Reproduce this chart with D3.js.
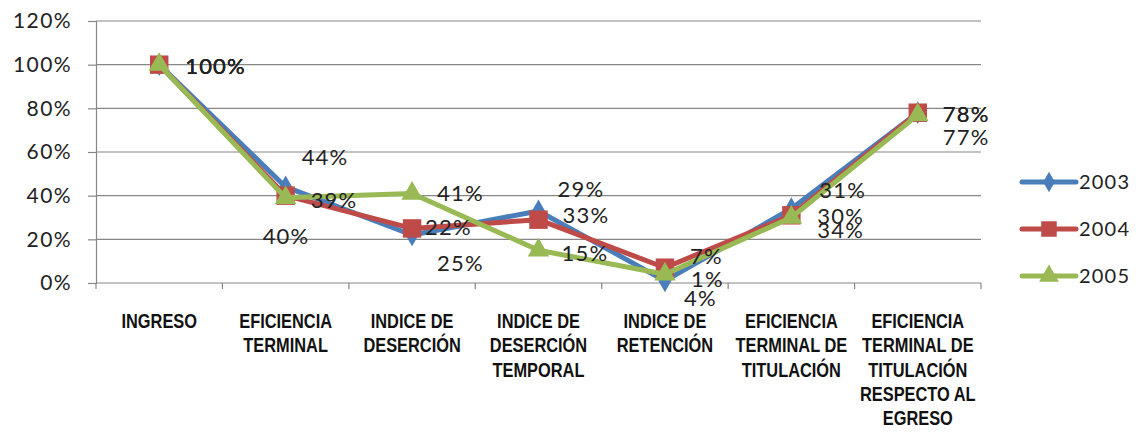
<!DOCTYPE html>
<html><head><meta charset="utf-8">
<script src="https://cdn.jsdelivr.net/npm/d3@7"></script>
<style>
body{margin:0;background:#fff;}
svg{display:block;}
</style></head>
<body><svg id="c" width="1136" height="432"></svg>
<script>
const categories = [
  ["INGRESO"],
  ["EFICIENCIA","TERMINAL"],
  ["INDICE DE","DESERCIÓN"],
  ["INDICE DE","DESERCIÓN","TEMPORAL"],
  ["INDICE DE","RETENCIÓN"],
  ["EFICIENCIA","TERMINAL DE","TITULACIÓN"],
  ["EFICIENCIA","TERMINAL DE","TITULACIÓN","RESPECTO AL","EGRESO"]
];
const seriesNames = ["2003","2004","2005"];
const values2003 = [1.00, 0.44, 0.22, 0.33, 0.01, 0.34, 0.78];
const values2004 = [1.00, 0.40, 0.25, 0.29, 0.07, 0.31, 0.78];
const values2005 = [1.00, 0.39, 0.41, 0.15, 0.04, 0.30, 0.77];
const yTicks = [0, 0.2, 0.4, 0.6, 0.8, 1.0, 1.2];

// label offsets (layout only)
const labelOffsets = [
  [[26,2],[16,-30],[13,-8],[24,4],[26,-2],[26,22],[25,2]],
  [[26,2],[-23,41],[25,35],[19,-30],[25,-11],[28,-25],[25,2]],
  [[26,2],[25,2],[25,0],[23,3],[19,24],[26,-1],[25,22]]
];
const colors = ["#4a7ebb","#be4b48","#98b954"];
const shapes = [d3.symbolDiamond, d3.symbolSquare, d3.symbolTriangle];
const shapeSizes = [150, 340, 200];
const legendSizes = [120, 240, 170];
const numFont = "Lato, 'Open Sans', sans-serif";

const series = [values2003, values2004, values2005].map((v,i)=>({name:seriesNames[i], values:v, color:colors[i]}));

const svg = d3.select("#c");
const pLeft = 96, pRight = 981, pTop = 21, pBottom = 283;
const x = d3.scalePoint().domain(d3.range(categories.length)).range([pLeft,pRight]).padding(0.5);
const step = x.step();
const y = d3.scaleLinear().domain([0,1.2]).range([pBottom, pTop]);

// y axis + gridlines
const yAxis = d3.axisLeft(y).tickValues(yTicks).tickFormat(d3.format(".0%")).tickSize(8).tickPadding(16);
const gy = svg.append("g").attr("transform",`translate(${pLeft},0)`).call(yAxis);
gy.select(".domain").attr("stroke","#868686").attr("stroke-width",1.2);
gy.selectAll(".tick line").attr("stroke","#868686").attr("stroke-width",1.2);
gy.selectAll(".tick text").attr("font-family",numFont).attr("font-size",21)
  .attr("letter-spacing","1.4px").attr("fill","#222");
svg.append("g").selectAll("line").data(yTicks.filter(d=>d>0)).join("line")
  .attr("x1",pLeft).attr("x2",pRight).attr("y1",d=>y(d)).attr("y2",d=>y(d))
  .attr("stroke","#868686").attr("stroke-width",1.2);

// x axis
svg.append("line").attr("x1",pLeft).attr("x2",pRight).attr("y1",pBottom).attr("y2",pBottom).attr("stroke","#868686").attr("stroke-width",1.2);
svg.append("g").selectAll("line").data(d3.range(categories.length+1)).join("line")
  .attr("x1",i=>pLeft+i*step).attr("x2",i=>pLeft+i*step).attr("y1",pBottom).attr("y2",pBottom+6)
  .attr("stroke","#868686").attr("stroke-width",1.2);

const catG = svg.append("g");
categories.forEach((lines,i)=>{
  const t = catG.append("text").attr("transform",`translate(${x(i)},${pBottom+45}) scale(0.82,1)`)
    .attr("text-anchor","middle").attr("font-family","'Liberation Sans', Arial, sans-serif")
    .attr("font-weight","bold").attr("font-size",20).attr("fill","#111");
  lines.forEach((l,j)=>t.append("tspan").attr("x",0).attr("dy",j===0?0:24.3).text(l));
});

// lines and markers
const line = d3.line().x((d,i)=>x(i)).y(d=>y(d));
series.forEach((s,si)=>{
  svg.append("path").attr("d",line(s.values)).attr("fill","none").attr("stroke",s.color)
    .attr("stroke-width",5).attr("stroke-linejoin","round").attr("stroke-linecap","round");
  svg.append("g").selectAll("path").data(s.values).join("path")
    .attr("transform",(d,i)=>`translate(${x(i)},${y(d)})`)
    .attr("d",d3.symbol().type(shapes[si]).size(shapeSizes[si])).attr("fill",s.color);
});

// value labels
series.forEach((s,si)=>{
  svg.append("g").selectAll("text").data(s.values).join("text")
    .attr("x",(d,i)=>x(i)+labelOffsets[si][i][0])
    .attr("y",(d,i)=>y(d)+labelOffsets[si][i][1])
    .attr("dy","0.35em")
    .attr("font-family",numFont).attr("font-size",22).attr("letter-spacing","1.2px").attr("fill","#222")
    .text(d=>d3.format(".0%")(d));
});

// legend
const lg = svg.append("g").attr("transform","translate(1021,182)");
series.forEach((s,i)=>{
  const g = lg.append("g").attr("transform",`translate(0,${i*47})`);
  g.append("line").attr("x1",1).attr("x2",55).attr("stroke",s.color).attr("stroke-width",5).attr("stroke-linecap","round");
  g.append("path").attr("transform","translate(28,0)").attr("d",d3.symbol().type(shapes[i]).size(legendSizes[i])).attr("fill",s.color);
  g.append("text").attr("x",58).attr("dy","0.35em").attr("font-family",numFont)
    .attr("font-size",20).attr("letter-spacing","1.2px").attr("fill","#222").text(s.name);
});
</script></body></html>
